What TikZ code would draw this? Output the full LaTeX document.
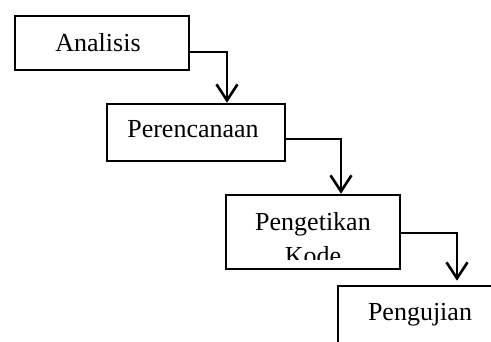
\documentclass[tikz,border=0pt]{standalone}
\usepackage{fontspec}
\setmainfont{Liberation Serif}
\usetikzlibrary{arrows.meta}
\begin{document}
\begin{tikzpicture}[x=1pt,y=-1pt,
  box/.style={draw=black,line width=2.6pt,rectangle,inner sep=0pt,fill=white},
  lbl/.style={anchor=base,inner sep=0pt,font=\fontsize{26}{33}\selectfont},
  arr/.style={line width=2.6pt,-{Straight Barb[length=16pt,width=21pt,line width=2.6pt]}}]
\useasboundingbox (0,0) rectangle (491,341);
\clip (0,0) rectangle (491,341);
\node[box,minimum width=174pt,minimum height=54pt] (b1) at (102,43) {};
\node[box,minimum width=178pt,minimum height=57pt] (b2) at (196,132.5) {};
\node[box,minimum width=174pt,minimum height=74pt] (b3) at (313,232) {};
\node[box,minimum width=175pt,minimum height=60pt] (b4) at (425.5,316) {};
\node[lbl] (t1) at (98,51) {Analisis};
\node[lbl] (t2) at (193,137) {Perencanaan};
\begin{scope}
\clip (b3.north west) rectangle ([yshift=10.5pt]b3.south east);
\node[lbl] (t3a) at (313,230) {Pengetikan};
\node[lbl] (t3b) at (313,264) {Kode};
\end{scope}
\node[lbl] (t4) at (420,320) {Pengujian};
\coordinate (e1) at ([yshift=-9pt]b1.east);
\coordinate (e2) at ([yshift=-6.5pt]b2.east);
\coordinate (e3) at ([yshift=-1pt]b3.east);
\draw[arr] (e1) -| ([xshift=31pt]b2.north);
\draw[arr] (e2) -| ([xshift=28pt]b3.north);
\draw[arr,shorten >=4pt] (e3) -| ([xshift=31.5pt]b4.north);
\end{tikzpicture}
\end{document}
